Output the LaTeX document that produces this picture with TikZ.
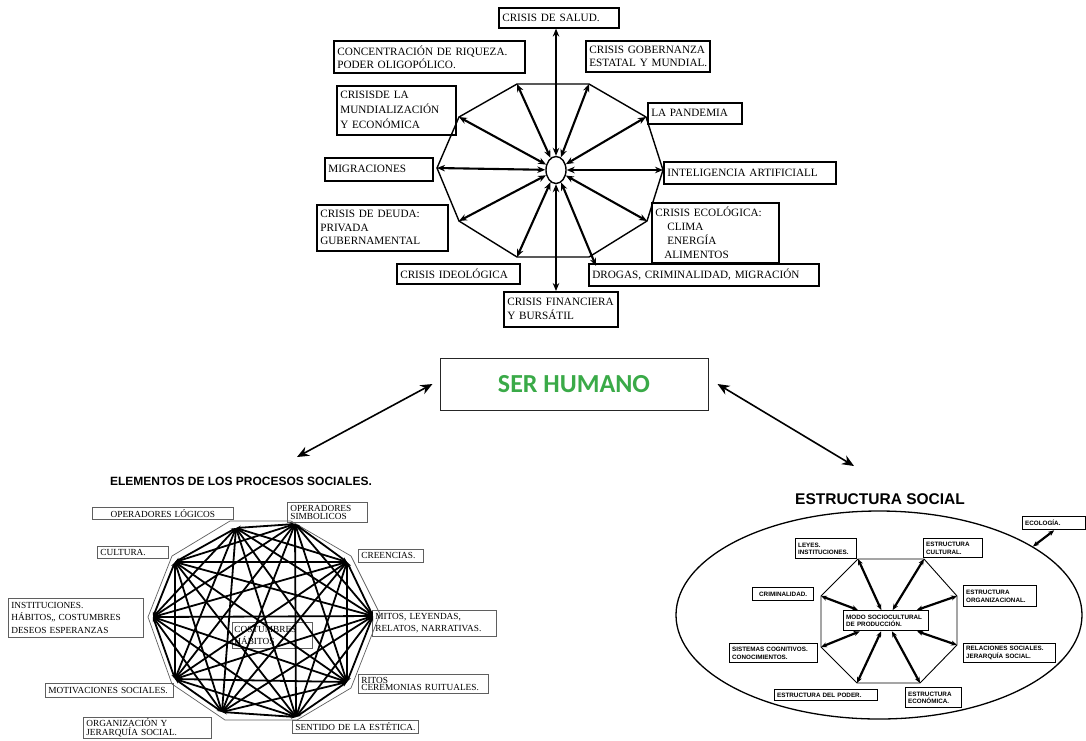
\documentclass[tikz,border=0pt]{standalone}
\usepackage{fontspec}
\setmainfont{Liberation Serif}
\newfontfamily\arialf{Liberation Sans}
\newfontfamily\carl{Carlito}
\usetikzlibrary{arrows.meta,shapes.geometric}
\definecolor{shgreen}{RGB}{58,170,72}
\definecolor{boxgray}{RGB}{95,95,95}
\newcommand{\nb}[1]{\mbox{#1}}
\begin{document}
\begin{tikzpicture}[x=1pt,y=-1pt,
  tb/.style={draw, line width=1.6pt, anchor=north west, align=left, inner xsep=3.5pt, inner ysep=1pt, font=\fontsize{11.2}{14}\selectfont},
  bl/.style={draw=boxgray, line width=0.7pt, anchor=north west, align=left, inner xsep=3pt, inner ysep=0.5pt, font=\fontsize{9.3}{12}\selectfont},
  br/.style={draw, line width=1.3pt, anchor=north west, align=left, inner xsep=2.5pt, inner ysep=0.5pt, font=\arialf\bfseries\fontsize{6.3}{7.6}\selectfont},
  dbl/.style={line width=2.1pt, {Stealth[length=8pt,width=6.5pt]}-{Stealth[length=8pt,width=6.5pt]}},
  dblk/.style={line width=1.8pt, {Stealth[length=5pt,width=4pt]}-{Stealth[length=5pt,width=4pt]}},
  dblr/.style={line width=2.2pt, {Stealth[length=6pt,width=5pt]}-{Stealth[length=6pt,width=5pt]}},
  big/.style={line width=1.6pt, {Stealth[length=12pt,width=10pt]}-{Stealth[length=12pt,width=10pt]}}]
\useasboundingbox (0,0) rectangle (1086,740);
\fill[white] (0,0) rectangle (1086,740);

% ---------------- top diagram ----------------
\coordinate (t1) at (517,84);
\coordinate (t2) at (589,84);
\coordinate (t3) at (646,117);
\coordinate (t4) at (663,170);
\coordinate (t5) at (647,221);
\coordinate (t6) at (589,257);
\coordinate (t7) at (517,257);
\coordinate (t8) at (459,221);
\coordinate (t9) at (437,168);
\coordinate (t10) at (459,117);
\coordinate (t6e) at (596,266);
\draw[line width=1.4pt] (t1) -- (t2) -- (t3) -- (t4) -- (t5) -- (t6) -- (t7) -- (t8) -- (t9) -- (t10) -- cycle;
\node[ellipse, draw, line width=1.4pt, minimum width=20pt, minimum height=27pt, inner sep=0pt] (c) at (556,170) {};

\node[tb, text width=113pt, minimum height=20pt] (salud) at (498,7) {\nb{CRISIS DE SALUD.}};
\node[tb, text width=184pt, minimum height=32pt, font=\fontsize{11.2}{13}\selectfont] (conc) at (333,40) {\nb{CONCENTRACIÓN DE RIQUEZA.}\\\nb{PODER OLIGOPÓLICO.}};
\node[tb, text width=117pt, minimum height=31pt, font=\fontsize{11.2}{13}\selectfont] (gob) at (585,40) {\nb{CRISIS GOBERNANZA}\\\nb{ESTATAL Y MUNDIAL.}};
\node[tb, text width=112pt, minimum height=49pt, font=\fontsize{11.2}{15}\selectfont] (mund) at (336,85) {\nb{CRISISDE LA}\\\nb{MUNDIALIZACIÓN}\\\nb{Y ECONÓMICA}};
\node[tb, text width=87pt, minimum height=21pt] (pand) at (647,102) {\nb{LA PANDEMIA}};
\node[tb, text width=101pt, minimum height=23pt] (migr) at (324,157) {\nb{MIGRACIONES}};
\node[tb, text width=165pt, minimum height=22pt] (ia) at (663,161) {\nb{INTELIGENCIA ARTIFICIALL}};
\node[tb, text width=124pt, minimum height=46pt, font=\fontsize{11.2}{13.5}\selectfont] (deuda) at (316,204) {\nb{CRISIS DE DEUDA:}\\\nb{PRIVADA}\\\nb{GUBERNAMENTAL}};
\node[tb, text width=120pt, minimum height=60pt, font=\fontsize{11.2}{14}\selectfont] (eco) at (651,202) {\nb{CRISIS ECOLÓGICA:}\\\hspace*{12pt}CLIMA\\\hspace*{12pt}ENERGÍA\\\hspace*{9pt}ALIMENTOS};
\node[tb, text width=116pt, minimum height=20pt] (ideo) at (396,263) {\nb{CRISIS IDEOLÓGICA}};
\node[tb, text width=223pt, minimum height=22pt] (drogas) at (588,263) {\nb{DROGAS, CRIMINALIDAD, MIGRACIÓN}};
\node[tb, text width=107pt, minimum height=35pt, font=\fontsize{11.2}{14}\selectfont] (fin) at (503,291) {\nb{CRISIS FINANCIERA}\\\nb{Y BURSÁTIL}};

\foreach \v in {t1,t2,t3,t4,t5,t6e,t7,t8,t9,t10} {\draw[dbl] (c) -- (\v);}
\draw[dbl] (c) -- (salud.south -| c);
\draw[dbl] (c) -- (fin.north -| c);

% ---------------- SER HUMANO ----------------
\node[draw=black!85, line width=1pt, minimum width=268pt, minimum height=52pt, font=\carl\bfseries\fontsize{26}{30}\selectfont, text=shgreen] (sh) at (574,384) {SER HUMANO};
\coordinate (la) at (297,457);
\coordinate (ra) at (854,466);
\draw[big] ([xshift=-7pt]sh.west) -- (la);
\draw[big] ([xshift=9pt]sh.east) -- (ra);

% ---------------- bottom-left ----------------
\node[font=\arialf\bfseries\fontsize{12}{14}\selectfont] (tl) at (241,481) {ELEMENTOS DE LOS PROCESOS SOCIALES.};
\draw[boxgray, line width=0.7pt] (230,521) -- (291,521) -- (351,556) -- (380,614) -- (351,688) -- (297,720) -- (225,720) -- (172,684) -- (148,617) -- (172,556) -- cycle;
\coordinate (g1) at (236,528);
\coordinate (g2) at (295,524);
\coordinate (g3) at (347,562);
\coordinate (g4) at (373,616);
\coordinate (g5) at (347,682);
\coordinate (g6) at (296,717);
\coordinate (g7) at (222,712);
\coordinate (g8) at (175,679);
\coordinate (g9) at (153,617);
\coordinate (g10) at (175,562);

\node[bl, text width=135pt, minimum height=12pt, align=center] (opl) at (92,507) {\nb{OPERADORES LÓGICOS}};
\node[bl, text width=74pt, minimum height=20pt, font=\fontsize{9.3}{7.5}\selectfont] (ops) at (287,502) {\nb{OPERADORES}\\\nb{SIMBOLICOS}};
\node[bl, text width=65pt, minimum height=12pt] (cul) at (97,546) {\nb{CULTURA.}};
\node[bl, text width=59pt, minimum height=13pt] (cre) at (358,549) {\nb{CREENCIAS.}};
\node[bl, text width=129pt, minimum height=39pt, font=\fontsize{9.3}{12.5}\selectfont] (ins) at (8,598) {\nb{INSTITUCIONES.}\\\nb{HÁBITOS,, COSTUMBRES}\\\nb{DESEOS ESPERANZAS}};
\node[bl, text width=118pt, minimum height=26pt] (mit) at (372,610) {\nb{MITOS, LEYENDAS,}\\\nb{RELATOS, NARRATIVAS.}};
\node[bl, text width=76pt, minimum height=26pt, inner xsep=2pt] (cos) at (232,622) {\nb{COSTUMBRES}\\\nb{HÁBITOS}};
\node[bl, text width=122pt, minimum height=14pt] (mot) at (45,683) {\nb{MOTIVACIONES SOCIALES.}};
\node[bl, text width=124pt, minimum height=19pt, font=\fontsize{9.3}{7.5}\selectfont] (rit) at (358,674) {\nb{RITOS}\\\nb{CEREMONIAS RUITUALES.}};
\node[bl, text width=122pt, minimum height=21pt, font=\fontsize{9.3}{7.5}\selectfont] (org) at (83,717) {\nb{ORGANIZACIÓN Y}\\\nb{JERARQUÍA SOCIAL.}};
\node[bl, text width=120pt, minimum height=13pt] (sen) at (292,720) {\nb{SENTIDO DE LA ESTÉTICA.}};

\foreach \i in {1,...,9} {
  \pgfmathtruncatemacro{\s}{\i+1}
  \foreach \j in {\s,...,10} {\draw[dblk] (g\i) -- (g\j);}
}

% ---------------- bottom-right ----------------
\node[font=\arialf\bfseries\fontsize{15.5}{18}\selectfont] (tr) at (880,499) {ESTRUCTURA SOCIAL};
\node[ellipse, draw, line width=1.3pt, minimum width=406pt, minimum height=208pt, inner sep=0pt] (es) at (879,615) {};
\coordinate (r1) at (858,559);
\coordinate (r2) at (924,559);
\coordinate (r3) at (957,596);
\coordinate (r4) at (957,645);
\coordinate (r5) at (920,683);
\coordinate (r6) at (857,683);
\coordinate (r7) at (821,647);
\coordinate (r8) at (821,596);
\draw[line width=0.9pt] (r1) -- (r2) -- (r3) -- (r4) -- (r5) -- (r6) -- (r7) -- (r8) -- cycle;

\node[br, text width=58pt, minimum height=13pt] (ecol) at (1022,516) {\nb{ECOLOGÍA.}};
\node[br, text width=56pt, minimum height=20pt] (ley) at (795,538) {\nb{LEYES.}\\\nb{INSTITUCIONES.}};
\node[br, text width=54pt, minimum height=19pt] (cul2) at (923,538) {\nb{ESTRUCTURA}\\\nb{CULTURAL.}};
\node[br, text width=56pt, minimum height=13pt, align=center] (crim) at (752,587) {\nb{CRIMINALIDAD.}};
\node[br, text width=68pt, minimum height=21pt] (org2) at (963,585) {\nb{ESTRUCTURA}\\\nb{ORGANIZACIONAL.}};
\node[br, text width=80pt, minimum height=20pt] (modo) at (843,610) {\nb{MODO SOCIOCULTURAL}\\\nb{DE PRODUCCIÓN.}};
\node[br, text width=83pt, minimum height=19pt] (sist) at (729,643) {\nb{SISTEMAS COGNITIVOS.}\\\nb{CONOCIMIENTOS.}};
\node[br, text width=87pt, minimum height=19pt] (rel) at (963,643) {\nb{RELACIONES SOCIALES.}\\\nb{JERARQUÍA SOCIAL.}};
\node[br, text width=98pt, minimum height=11pt] (pod) at (774,689) {\nb{ESTRUCTURA DEL PODER.}};
\node[br, text width=51pt, minimum height=20pt] (econ) at (905,687) {\nb{ESTRUCTURA}\\\nb{ECONÓMICA.}};

\foreach \v in {r1,r2,r3,r4,r5,r6,r7,r8} {\draw[dblr] (modo) -- (\v);}
\draw[dblr] (es.24) -- (ecol.south);
\end{tikzpicture}
\end{document}
